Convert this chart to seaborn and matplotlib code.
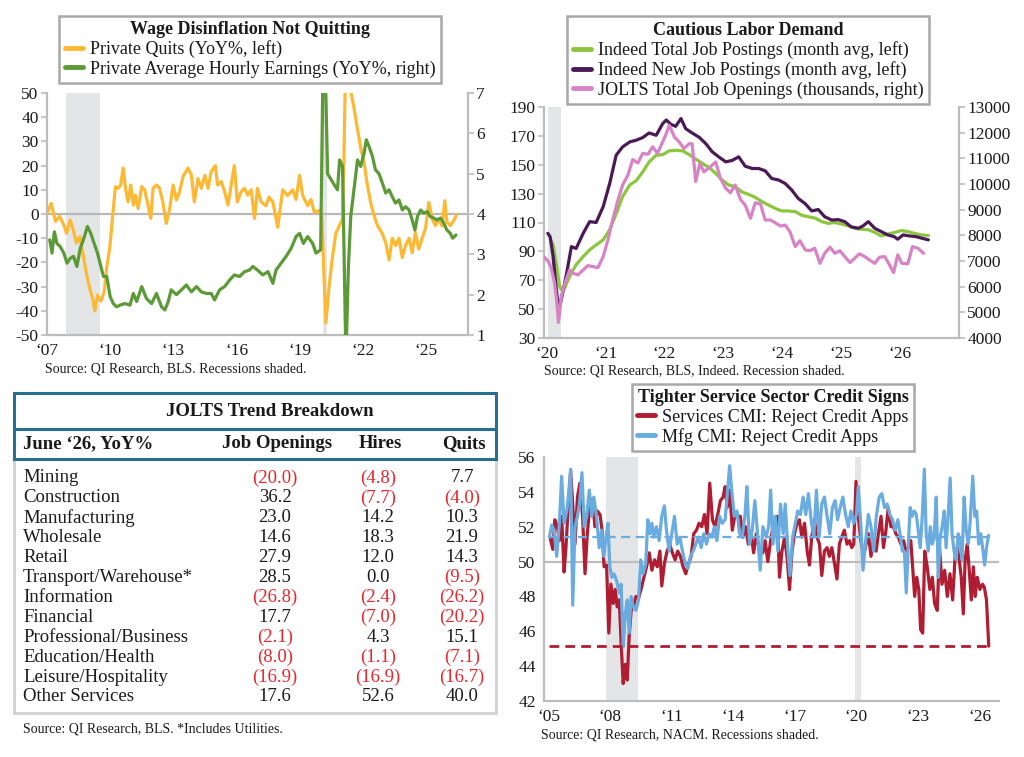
import matplotlib
matplotlib.use("Agg")
import matplotlib.pyplot as plt
import seaborn as sns
import pandas as pd
from matplotlib.patches import Rectangle

# ---- data ----
# panel 1: private quits YoY% (left) and private AHE YoY% (right)
priv_quits = [(2007.0, 0), (2007.2, 4.4), (2007.4, -3), (2007.6, -1), (2007.8, -4.5), (2007.93, -8),
              (2008.1, -2.5), (2008.25, -6.6), (2008.4, -12), (2008.56, -9.4), (2008.72, -17), (2008.88, -25),
              (2009.04, -31), (2009.2, -36), (2009.27, -40), (2009.4, -33.5), (2009.56, -36), (2009.72, -32),
              (2009.83, -22.5), (2009.98, -14), (2010.14, 1), (2010.25, 11.3), (2010.38, 10.6), (2010.5, 12),
              (2010.62, 19), (2010.73, 10.6), (2010.85, 5), (2010.98, 12), (2011.1, 3.7), (2011.2, 7.8),
              (2011.33, 2.3), (2011.5, 11.3), (2011.64, 10), (2011.8, 3.7), (2011.93, -1.8), (2012.04, 10.6),
              (2012.2, 12), (2012.35, 10.6), (2012.5, 5), (2012.67, -3.9), (2012.83, 2.3), (2012.99, 12),
              (2013.15, 5.8), (2013.3, 9.2), (2013.46, 15.4), (2013.7, 19), (2013.86, 16), (2014.0, 5),
              (2014.17, 14.7), (2014.33, 10.6), (2014.5, 16), (2014.65, 10.6), (2014.8, 17.5), (2015.0, 20),
              (2015.1, 12), (2015.28, 13.4), (2015.44, 9.2), (2015.6, 3.7), (2015.75, 12), (2015.9, 20),
              (2016.04, 5), (2016.22, 9.2), (2016.38, 10.6), (2016.54, 7.8), (2016.7, 10), (2016.86, -1.8),
              (2017.0, 10.6), (2017.17, 5), (2017.4, 3.4), (2017.55, 7), (2017.73, 5), (2017.96, -5.5),
              (2018.2, 10), (2018.43, 7.6), (2018.67, 10), (2018.83, 6), (2019.0, 16), (2019.15, 7.6),
              (2019.38, 3.4), (2019.54, 6), (2019.7, 0.7), (2019.93, 1.4), (2020.06, -2), (2020.17, -28),
              (2020.25, -45), (2020.4, -30), (2020.56, -18), (2020.72, -8), (2020.88, -5), (2021.04, -2),
              (2021.1, 20), (2021.2, 70), (2021.3, 62), (2021.45, 50), (2021.6, 43), (2021.75, 35),
              (2021.91, 27), (2022.07, 21), (2022.2, 13), (2022.38, 4.5), (2022.55, -1), (2022.7, -4.8),
              (2022.9, -7.6), (2023.09, -11.7), (2023.25, -19), (2023.4, -10), (2023.56, -13), (2023.72, -10),
              (2023.88, -18), (2024.03, -13), (2024.2, -10), (2024.35, -16), (2024.5, -7.6), (2024.66, -14.5),
              (2024.82, -10), (2024.98, -6), (2025.14, 4.8), (2025.3, -2), (2025.45, -4.8), (2025.6, -2),
              (2025.77, -5), (2025.9, 5.5), (2026.0, -3.4), (2026.16, -4.8), (2026.32, -2.8), (2026.45, -0.4)]
priv_ahe = [(2007.13, 3.36), (2007.24, 3.03), (2007.35, 3.56), (2007.47, 3.27), (2007.63, 3.19), (2007.8, 3.03),
            (2007.95, 2.78), (2008.1, 2.9), (2008.26, 2.95), (2008.42, 2.7), (2008.58, 3.15), (2008.73, 3.36),
            (2008.92, 3.69), (2009.08, 3.52), (2009.24, 3.27), (2009.4, 3.03), (2009.56, 2.7), (2009.68, 2.45),
            (2009.84, 2.45), (2010.0, 1.95), (2010.15, 1.78), (2010.3, 1.7), (2010.47, 1.74), (2010.7, 1.78),
            (2010.94, 1.74), (2011.1, 2.03), (2011.26, 1.83), (2011.5, 2.2), (2011.73, 1.9), (2011.97, 1.78),
            (2012.2, 2.03), (2012.44, 1.7), (2012.6, 1.62), (2012.76, 1.83), (2012.9, 2.12), (2013.15, 2.0),
            (2013.39, 2.12), (2013.62, 2.24), (2013.86, 2.07), (2014.1, 2.2), (2014.33, 2.07), (2014.57, 2.03),
            (2014.8, 2.03), (2014.96, 1.87), (2015.2, 2.12), (2015.44, 2.2), (2015.67, 2.36), (2015.9, 2.49),
            (2016.15, 2.45), (2016.38, 2.57), (2016.62, 2.61), (2016.78, 2.7), (2017.0, 2.61), (2017.25, 2.49),
            (2017.5, 2.57), (2017.73, 2.28), (2017.88, 2.61), (2018.12, 2.78), (2018.36, 2.95), (2018.6, 3.15),
            (2018.83, 3.44), (2019.0, 3.52), (2019.18, 3.27), (2019.38, 3.44), (2019.62, 3.27), (2019.78, 3.03),
            (2020.0, 3.11), (2020.12, 8.0), (2020.22, 7.6), (2020.33, 5.0), (2020.5, 4.85), (2020.65, 4.72),
            (2020.8, 4.6), (2020.9, 5.34), (2021.04, 5.18), (2021.2, 0.4), (2021.32, 2.7), (2021.43, 3.94),
            (2021.6, 4.68), (2021.75, 5.34), (2021.9, 5.18), (2022.06, 5.5), (2022.17, 5.84), (2022.3, 5.67),
            (2022.46, 5.43), (2022.6, 5.1), (2022.77, 5.0), (2022.93, 4.77), (2023.09, 4.52), (2023.25, 4.6),
            (2023.4, 4.43), (2023.56, 4.27), (2023.72, 4.35), (2023.88, 4.1), (2024.03, 4.18), (2024.2, 4.1),
            (2024.35, 3.85), (2024.48, 3.6), (2024.6, 3.94), (2024.75, 4.1), (2024.9, 4.02), (2025.06, 4.06),
            (2025.2, 3.94), (2025.37, 3.9), (2025.53, 3.85), (2025.7, 3.9), (2025.85, 3.77), (2026.0, 3.6),
            (2026.16, 3.52), (2026.27, 3.4), (2026.43, 3.48)]

# panel 2: Indeed postings (left) and JOLTS openings (right)
indeed_total = [(2020.08, 97), (2020.11, 94.5), (2020.17, 79.5), (2020.22, 65.7), (2020.28, 62.2), (2020.34, 68),
                (2020.42, 75), (2020.5, 80.7), (2020.62, 86.4), (2020.73, 91), (2020.84, 94.5), (2020.96, 98),
                (2021.07, 105), (2021.18, 116), (2021.29, 128), (2021.41, 136), (2021.52, 139), (2021.63, 145),
                (2021.74, 152), (2021.86, 156.6), (2021.97, 157), (2022.08, 159.6), (2022.19, 160), (2022.31, 159.6),
                (2022.42, 157), (2022.53, 154), (2022.64, 151), (2022.76, 148), (2022.87, 144), (2022.98, 139.4),
                (2023.09, 136), (2023.2, 134.8), (2023.32, 131), (2023.43, 129.5), (2023.54, 127.4), (2023.66, 124.4),
                (2023.77, 122), (2023.88, 119.8), (2023.99, 118), (2024.1, 118), (2024.22, 117.5), (2024.33, 115),
                (2024.44, 114), (2024.56, 113), (2024.67, 110.6), (2024.78, 109.4), (2024.89, 110), (2025.0, 109),
                (2025.12, 107.6), (2025.23, 106), (2025.34, 105.3), (2025.46, 105), (2025.57, 103.2), (2025.68, 100.7),
                (2025.79, 102), (2025.9, 103), (2026.02, 104.4), (2026.13, 103.7), (2026.24, 102.5), (2026.36, 101.4),
                (2026.48, 101)]
indeed_new = [(2020.02, 102.5), (2020.06, 100), (2020.11, 86.4), (2020.17, 61), (2020.21, 49.6), (2020.26, 58.8),
              (2020.34, 75), (2020.42, 93.3), (2020.5, 92), (2020.62, 102.5), (2020.73, 110.6), (2020.84, 110),
              (2020.96, 121), (2021.07, 137), (2021.18, 156.6), (2021.29, 162.4), (2021.41, 165.8), (2021.52, 167),
              (2021.63, 168.8), (2021.74, 172), (2021.86, 170.4), (2021.97, 178.5), (2022.03, 181), (2022.11, 178),
              (2022.19, 176.6), (2022.28, 182), (2022.36, 175), (2022.47, 172), (2022.59, 169), (2022.7, 164.7),
              (2022.81, 159), (2022.92, 155.5), (2023.04, 152), (2023.15, 153), (2023.26, 155.5), (2023.37, 149),
              (2023.49, 147.4), (2023.6, 147.4), (2023.71, 145.8), (2023.82, 140.5), (2023.94, 139.4), (2024.05, 137),
              (2024.16, 132.5), (2024.27, 126.7), (2024.39, 123), (2024.5, 118), (2024.61, 119), (2024.72, 114),
              (2024.84, 111.7), (2024.95, 112), (2025.06, 110.6), (2025.17, 107), (2025.29, 106), (2025.37, 107.6),
              (2025.46, 110.6), (2025.57, 106), (2025.68, 103.7), (2025.79, 101.4), (2025.9, 100.2), (2025.96, 98.4),
              (2026.05, 101.4), (2026.16, 100.7), (2026.27, 100.2), (2026.38, 99), (2026.48, 98)]
jolts_openings = [(2019.96, 7150), (2020.03, 6980), (2020.08, 6700), (2020.13, 6200), (2020.17, 5490), (2020.2, 4610),
                  (2020.25, 5620), (2020.31, 6140), (2020.39, 6650), (2020.45, 6520), (2020.53, 6460), (2020.62, 6650),
                  (2020.7, 6820), (2020.79, 6780), (2020.87, 6740), (2020.96, 7170), (2021.04, 7820), (2021.12, 8600),
                  (2021.21, 9370), (2021.29, 9960), (2021.38, 10350), (2021.46, 10950), (2021.55, 10820), (2021.63, 11190),
                  (2021.72, 11160), (2021.8, 11450), (2021.88, 11190), (2021.97, 11640), (2022.03, 11960), (2022.08, 12290),
                  (2022.17, 11830), (2022.25, 11640), (2022.33, 11380), (2022.42, 11570), (2022.47, 11570), (2022.53, 10090),
                  (2022.6, 10800), (2022.67, 10470), (2022.78, 10670), (2022.87, 10860), (2022.95, 10220), (2023.04, 9830),
                  (2023.12, 9660), (2023.2, 9960), (2023.29, 9400), (2023.37, 9180), (2023.46, 8660), (2023.54, 9270),
                  (2023.63, 9220), (2023.71, 8600), (2023.8, 8600), (2023.88, 8490), (2023.97, 8360), (2024.05, 8400),
                  (2024.13, 8140), (2024.22, 7560), (2024.3, 7790), (2024.39, 7430), (2024.47, 7400), (2024.55, 7500),
                  (2024.64, 6910), (2024.72, 7300), (2024.81, 7540), (2024.89, 7300), (2024.98, 7400), (2025.06, 7170),
                  (2025.15, 6940), (2025.23, 7110), (2025.31, 7280), (2025.4, 7170), (2025.48, 7040), (2025.57, 6910),
                  (2025.65, 7150), (2025.74, 7170), (2025.82, 6850), (2025.89, 6550), (2025.96, 7240), (2026.03, 6910),
                  (2026.13, 6890), (2026.21, 7560), (2026.3, 7500), (2026.4, 7300)]

# panel 3: NACM credit managers' index, rejections of credit applications
services_cmi = [(2005.06, 51.4), (2005.2, 50.7), (2005.3, 52.4), (2005.42, 52.0), (2005.52, 51.2), (2005.63, 52.6),
                (2005.75, 49.4), (2005.84, 50.8), (2005.96, 53.3), (2006.07, 55.2), (2006.17, 53.3), (2006.28, 51.0),
                (2006.4, 53.7), (2006.52, 54.5), (2006.65, 52.6), (2006.77, 49.3), (2006.88, 51.6), (2007.0, 53.1),
                (2007.14, 53.6), (2007.25, 52.0), (2007.37, 52.9), (2007.5, 52.7), (2007.6, 51.8), (2007.7, 49.7),
                (2007.82, 49.8), (2007.93, 45.9), (2008.03, 48.7), (2008.15, 47.6), (2008.24, 48.4), (2008.34, 47.4),
                (2008.44, 47.8), (2008.53, 45.3), (2008.63, 43.0), (2008.73, 44.1), (2008.83, 43.2), (2008.92, 45.7),
                (2009.02, 47.2), (2009.12, 47.4), (2009.25, 48.0), (2009.38, 47.9), (2009.5, 48.4), (2009.64, 49.1),
                (2009.77, 49.7), (2009.9, 50.5), (2010.03, 49.5), (2010.16, 50.1), (2010.29, 49.7), (2010.42, 50.6),
                (2010.51, 48.6), (2010.64, 49.9), (2010.77, 50.6), (2010.9, 51.0), (2011.03, 50.5), (2011.16, 50.1),
                (2011.29, 50.6), (2011.42, 50.3), (2011.55, 49.7), (2011.68, 49.3), (2011.8, 49.8), (2011.94, 50.3),
                (2012.07, 51.6), (2012.2, 51.8), (2012.33, 52.2), (2012.46, 52.0), (2012.59, 52.7), (2012.72, 51.6),
                (2012.85, 54.5), (2012.98, 52.4), (2013.1, 52.0), (2013.24, 52.7), (2013.37, 53.5), (2013.5, 53.7),
                (2013.6, 54.3), (2013.7, 53.1), (2013.82, 54.1), (2013.95, 51.8), (2014.08, 52.7), (2014.2, 52.6),
                (2014.34, 52.6), (2014.47, 51.4), (2014.6, 52.0), (2014.73, 51.0), (2014.86, 51.6), (2014.99, 50.5),
                (2015.12, 51.6), (2015.28, 50.6), (2015.44, 50.5), (2015.55, 51.2), (2015.68, 50.0), (2015.84, 51.4),
                (2016.0, 52.4), (2016.14, 52.6), (2016.25, 49.1), (2016.37, 50.6), (2016.5, 51.4), (2016.63, 50.1),
                (2016.74, 48.4), (2016.86, 50.6), (2016.98, 51.6), (2017.11, 52.2), (2017.22, 52.4), (2017.34, 51.4),
                (2017.47, 52.2), (2017.6, 50.6), (2017.71, 49.8), (2017.82, 51.4), (2017.95, 52.4), (2018.08, 51.4),
                (2018.2, 51.0), (2018.31, 49.2), (2018.44, 50.6), (2018.57, 50.8), (2018.68, 50.3), (2018.8, 50.8),
                (2018.93, 49.9), (2019.05, 49.0), (2019.17, 51.0), (2019.28, 51.4), (2019.41, 51.8), (2019.54, 51.0),
                (2019.66, 51.2), (2019.77, 50.8), (2019.87, 51.0), (2019.98, 54.6), (2020.09, 52.6), (2020.22, 51.2),
                (2020.35, 50.3), (2020.47, 51.0), (2020.58, 51.6), (2020.71, 50.3), (2020.84, 51.4), (2020.96, 50.6),
                (2021.07, 51.6), (2021.2, 52.6), (2021.32, 50.8), (2021.44, 51.8), (2021.55, 53.1), (2021.68, 52.0),
                (2021.81, 52.0), (2021.92, 51.6), (2022.04, 51.4), (2022.17, 51.0), (2022.3, 51.2), (2022.41, 50.6),
                (2022.52, 50.8), (2022.65, 51.2), (2022.75, 49.5), (2022.84, 48.0), (2022.94, 49.1), (2023.04, 48.4),
                (2023.13, 46.1), (2023.23, 45.9), (2023.33, 50.6), (2023.45, 49.7), (2023.58, 48.4), (2023.7, 49.1),
                (2023.81, 47.6), (2023.94, 47.2), (2024.05, 50.8), (2024.17, 48.7), (2024.3, 49.5), (2024.43, 48.0),
                (2024.56, 49.3), (2024.69, 47.8), (2024.82, 50.5), (2024.92, 50.8), (2025.01, 50.1), (2025.11, 49.1),
                (2025.21, 47.0), (2025.3, 50.1), (2025.4, 51.0), (2025.5, 49.5), (2025.6, 47.8), (2025.7, 49.7),
                (2025.79, 48.0), (2025.89, 49.1), (2026.02, 48.4), (2026.15, 48.7), (2026.24, 48.5), (2026.34, 47.8),
                (2026.45, 45.15)]
mfg_cmi = [(2005.03, 51.4), (2005.15, 52.1), (2005.26, 51.8), (2005.39, 50.3), (2005.52, 52.2), (2005.63, 54.9),
           (2005.75, 52.2), (2005.88, 52.9), (2005.97, 53.9), (2006.07, 55.3), (2006.17, 47.5), (2006.28, 52.0),
           (2006.4, 52.6), (2006.5, 53.3), (2006.62, 55.1), (2006.73, 52.0), (2006.85, 52.6), (2006.98, 54.1),
           (2007.1, 52.6), (2007.2, 53.7), (2007.33, 52.6), (2007.46, 50.8), (2007.58, 51.8), (2007.69, 50.3),
           (2007.79, 51.4), (2007.89, 52.2), (2007.98, 49.7), (2008.08, 49.1), (2008.18, 49.3), (2008.31, 48.9),
           (2008.44, 48.2), (2008.53, 48.7), (2008.63, 45.1), (2008.73, 47.0), (2008.83, 47.8), (2008.92, 45.9),
           (2009.02, 48.0), (2009.12, 47.4), (2009.25, 47.2), (2009.38, 47.8), (2009.48, 50.1), (2009.6, 49.3),
           (2009.73, 49.9), (2009.83, 52.4), (2009.93, 51.6), (2010.03, 52.2), (2010.12, 51.4), (2010.25, 52.0),
           (2010.38, 51.2), (2010.51, 52.6), (2010.64, 53.2), (2010.74, 51.8), (2010.87, 50.6), (2011.0, 51.6),
           (2011.13, 52.6), (2011.26, 51.0), (2011.39, 51.4), (2011.52, 50.6), (2011.65, 49.9), (2011.78, 49.6),
           (2011.91, 50.3), (2012.04, 50.6), (2012.17, 51.0), (2012.3, 51.4), (2012.43, 50.8), (2012.56, 51.6),
           (2012.69, 51.0), (2012.82, 51.6), (2012.95, 51.4), (2013.08, 52.0), (2013.2, 51.2), (2013.33, 52.6),
           (2013.46, 52.2), (2013.6, 52.4), (2013.72, 54.1), (2013.82, 55.5), (2013.92, 54.1), (2014.05, 52.6),
           (2014.18, 52.9), (2014.3, 51.6), (2014.43, 51.4), (2014.57, 52.7), (2014.66, 54.3), (2014.79, 51.0),
           (2014.92, 51.8), (2015.05, 53.5), (2015.18, 51.6), (2015.31, 49.5), (2015.44, 52.0), (2015.6, 51.4),
           (2015.72, 52.0), (2015.82, 54.1), (2015.93, 51.0), (2016.04, 52.6), (2016.17, 50.6), (2016.3, 53.3),
           (2016.43, 51.6), (2016.53, 53.3), (2016.66, 50.6), (2016.76, 49.2), (2016.89, 51.4), (2017.02, 52.2),
           (2017.14, 52.9), (2017.27, 52.7), (2017.4, 53.7), (2017.53, 52.7), (2017.66, 53.9), (2017.79, 52.4),
           (2017.92, 51.4), (2018.05, 54.1), (2018.18, 51.4), (2018.31, 53.3), (2018.44, 53.7), (2018.57, 52.6),
           (2018.7, 51.6), (2018.83, 53.1), (2018.96, 53.5), (2019.08, 52.4), (2019.21, 53.1), (2019.34, 53.7),
           (2019.47, 52.7), (2019.6, 52.0), (2019.73, 52.9), (2019.87, 52.2), (2020.0, 52.7), (2020.09, 54.3),
           (2020.22, 52.0), (2020.32, 49.5), (2020.45, 51.2), (2020.58, 52.7), (2020.71, 52.0), (2020.84, 50.6),
           (2020.97, 52.6), (2021.11, 53.7), (2021.24, 53.9), (2021.37, 53.1), (2021.5, 53.3), (2021.63, 52.7),
           (2021.76, 52.4), (2021.89, 51.8), (2022.02, 52.4), (2022.15, 51.4), (2022.24, 50.6), (2022.34, 50.6),
           (2022.43, 48.2), (2022.53, 51.0), (2022.62, 53.1), (2022.72, 52.6), (2022.82, 52.9), (2022.92, 52.7),
           (2023.01, 51.8), (2023.11, 50.8), (2023.21, 52.6), (2023.31, 55.3), (2023.4, 51.6), (2023.5, 50.6),
           (2023.6, 52.0), (2023.7, 51.0), (2023.79, 51.4), (2023.89, 53.7), (2023.99, 49.1), (2024.08, 51.4),
           (2024.18, 52.0), (2024.28, 52.9), (2024.37, 50.8), (2024.47, 52.6), (2024.57, 54.8), (2024.66, 51.6),
           (2024.76, 50.6), (2024.86, 50.1), (2024.96, 51.6), (2025.05, 51.2), (2025.15, 50.1), (2025.25, 53.7),
           (2025.35, 51.8), (2025.45, 51.0), (2025.54, 52.2), (2025.67, 54.9), (2025.77, 52.6), (2025.86, 52.9),
           (2025.96, 51.0), (2026.06, 51.6), (2026.15, 50.8), (2026.25, 49.8), (2026.34, 50.8), (2026.44, 51.5)]
mfg_avg = 51.4

# panel 4: JOLTS table (June '26, YoY%)
sectors = ["Mining", "Construction", "Manufacturing", "Wholesale", "Retail", "Transport/Warehouse*",
           "Information", "Financial", "Professional/Business", "Education/Health", "Leisure/Hospitality",
           "Other Services"]
job_openings = [-20.0, 36.2, 23.0, 14.6, 27.9, 28.5, -26.8, 17.7, -2.1, -8.0, -16.9, 17.6]
hires = [-4.8, -7.7, 14.2, 18.3, 12.0, 0.0, -2.4, -7.0, 4.3, -1.1, -16.9, 52.6]
quits = [7.7, -4.0, 10.3, 21.9, 14.3, -9.5, -26.2, -20.2, 15.1, -7.1, -16.7, 40.0]

# ---- style ----
sns.set_style("white")
plt.rcParams["font.family"] = ["Liberation Serif", "DejaVu Serif"]
plt.rcParams["text.color"] = "#1a1a1a"
plt.rcParams["axes.unicode_minus"] = False

W, H = 1024, 757
SPINE = "#bcbcbc"
SHADE = "#e4e5e7"
fig = plt.figure(figsize=(W / 100, H / 100), dpi=100)


def rect(x0, y0, x1, y1):
    return [x0 / W, 1 - y1 / H, (x1 - x0) / W, (y1 - y0) / H]


def draw(ax, pts, color, label, lw=2.3):
    df = pd.DataFrame(pts, columns=["t", "v"])
    sns.lineplot(data=df, x="t", y="v", ax=ax, color=color, lw=lw, sort=False,
                 estimator=None, legend=False)
    line = ax.lines[-1]
    line.set_label(label)
    ax.set_xlabel("")
    ax.set_ylabel("")
    return line


def style(ax, sides):
    for s in ["top", "bottom", "left", "right"]:
        ax.spines[s].set_visible(s in sides)
        ax.spines[s].set_color(SPINE)
        ax.spines[s].set_linewidth(1.6)
    ax.tick_params(axis="both", labelsize=12.5, colors="#1a1a1a", color=SPINE)
    ax.tick_params(axis="x", length=0, pad=6)
    ax.tick_params(axis="y", length=4, width=1.2, pad=2)


def add_legend(ax, handles, title, cx, by):
    leg = ax.legend(handles, [h.get_label() for h in handles], title=title, loc="lower center",
                    bbox_to_anchor=(cx / W, 1 - by / H), bbox_transform=fig.transFigure,
                    frameon=True, fancybox=False, edgecolor="#a8a8a8", framealpha=1,
                    fontsize=13, title_fontproperties={"weight": "bold", "size": 13},
                    handlelength=1.0, handletextpad=0.4, borderpad=0.3, labelspacing=0.12)
    leg.get_frame().set_linewidth(1.8)
    for h in leg.legend_handles:
        h.set_linewidth(3.5)
    return leg


def yr_labels(years):
    return ["\u2018" + str(y)[2:] for y in years]


# overlay for table and source notes (pixel coordinates)
ov = fig.add_axes([0, 0, 1, 1])
ov.set_xlim(0, W)
ov.set_ylim(H, 0)
ov.axis("off")

# ---- panel 1 ----
ax1 = fig.add_axes(rect(47, 93, 468, 335))
ax1b = ax1.twinx()
ax1.axvspan(2007.92, 2009.5, color=SHADE, lw=0, zorder=0)
ax1.axvspan(2020.1, 2020.3, color=SHADE, lw=0, zorder=0)
ax1.axhline(0, color="#b8b8b8", lw=1.6, zorder=1)
h1 = draw(ax1, priv_quits, "#fdb933", "Private Quits (YoY%, left)")
h2 = draw(ax1b, priv_ahe, "#5b9a36", "Private Average Hourly Earnings (YoY%, right)")
ax1.set_xlim(2007, 2027)
ax1.set_ylim(-50, 50)
ax1.set_yticks(range(-50, 51, 10))
ax1b.set_ylim(1, 7)
ax1b.set_yticks(range(1, 8))
t1 = [2007, 2010, 2013, 2016, 2019, 2022, 2025]
ax1.set_xticks(t1)
ax1.set_xticklabels(yr_labels(t1))
style(ax1, ["left", "bottom"])
style(ax1b, ["right"])
add_legend(ax1b, [h1, h2], "Wage Disinflation Not Quitting", 250, 92)
ov.text(45, 369, "Source: QI Research, BLS. Recessions shaded.", fontsize=10, va="center")

# ---- panel 2 ----
ax2 = fig.add_axes(rect(544, 107, 959, 338))
ax2b = ax2.twinx()
ax2.axvspan(2020.02, 2020.24, color=SHADE, lw=0, zorder=0)
h3 = draw(ax2, indeed_total, "#8cc63e", "Indeed Total Job Postings (month avg, left)")
h4 = draw(ax2, indeed_new, "#4a1a56", "Indeed New Job Postings (month avg, left)")
h5 = draw(ax2b, jolts_openings, "#d883c6", "JOLTS Total Job Openings (thousands, right)")
ax2.set_xlim(2019.955, 2027)
ax2.set_ylim(30, 190)
ax2.set_yticks(range(30, 191, 20))
ax2b.set_ylim(4000, 13000)
ax2b.set_yticks(range(4000, 13001, 1000))
t2 = list(range(2020, 2027))
ax2.set_xticks(t2)
ax2.set_xticklabels(yr_labels(t2))
style(ax2, ["left", "bottom"])
style(ax2b, ["right"])
add_legend(ax2b, [h3, h4, h5], "Cautious Labor Demand", 748, 113)
ov.text(544, 371, "Source: QI Research, BLS, Indeed. Recession shaded.", fontsize=10, va="center")

# ---- panel 3 ----
ax3 = fig.add_axes(rect(544, 457, 999, 701))
ax3.axvspan(2007.8, 2009.35, color=SHADE, lw=0, zorder=0)
ax3.axvspan(2019.95, 2020.22, color=SHADE, lw=0, zorder=0)
ax3.axhline(50, color="#bdbdbd", lw=1.6, zorder=1)
h6 = draw(ax3, services_cmi, "#b01c32", "Services CMI: Reject Credit Apps")
h7 = draw(ax3, mfg_cmi, "#6aace0", "Mfg CMI: Reject Credit Apps")
t_start = min(mfg_cmi[0][0], services_cmi[0][0])
t_end = services_cmi[-1][0]
ax3.hlines(mfg_avg, t_start, t_end, colors="#6aace0", lw=1.6, linestyles=(0, (4, 2.5)), zorder=3)
ax3.hlines(services_cmi[-1][1], t_start, t_end, colors="#b01c32", lw=2.0, linestyles=(0, (3.5, 2.2)), zorder=3)
ax3.set_xlim(2004.77, 2026.95)
ax3.set_ylim(42, 56)
ax3.set_yticks(range(42, 57, 2))
t3 = [2005, 2008, 2011, 2014, 2017, 2020, 2023, 2026]
ax3.set_xticks(t3)
ax3.set_xticklabels(yr_labels(t3))
style(ax3, ["left", "bottom"])
add_legend(ax3, [h6, h7], "Tighter Service Sector Credit Signs", 773, 460)
ov.text(541, 735, "Source: QI Research, NACM. Recessions shaded.", fontsize=10, va="center")

# ---- panel 4: table ----
TEAL = "#2a6e8e"
RED = "#e8262c"
ov.add_patch(Rectangle((14, 459), 482, 254, fill=False, ec="#d4d4d4", lw=2.2))
ov.add_patch(Rectangle((14, 393), 482, 36, fill=False, ec=TEAL, lw=2.2))
ov.add_patch(Rectangle((14, 429), 482, 30, fill=False, ec=TEAL, lw=2.2))
ov.text(270, 411, "JOLTS Trend Breakdown", fontsize=13.5, weight="bold", ha="center", va="center")
ov.text(23, 444, "June \u201826, YoY%", fontsize=13.5, weight="bold", ha="left", va="center")
col_x = [275, 378, 462]
for x, name in zip(col_x, ["Job Openings", "Hires", "Quits"]):
    ov.text(x + 2, 444, name, fontsize=13.5, weight="bold", ha="center", va="center")


def fmt(v):
    return f"({abs(v):.1f})" if v < 0 else f"{v:.1f}"


for i, name in enumerate(sectors):
    y = 478 + i * 19.9
    ov.text(23, y, name, fontsize=13.5, ha="left", va="center")
    for x, col in zip(col_x, [job_openings, hires, quits]):
        v = col[i]
        ov.text(x, y, fmt(v), fontsize=13.5, ha="center", va="center",
                color=RED if v < 0 else "#1a1a1a")
ov.text(23, 729, "Source: QI Research, BLS. *Includes Utilities.", fontsize=10, va="center")

fig.savefig("out.png", dpi=100)
